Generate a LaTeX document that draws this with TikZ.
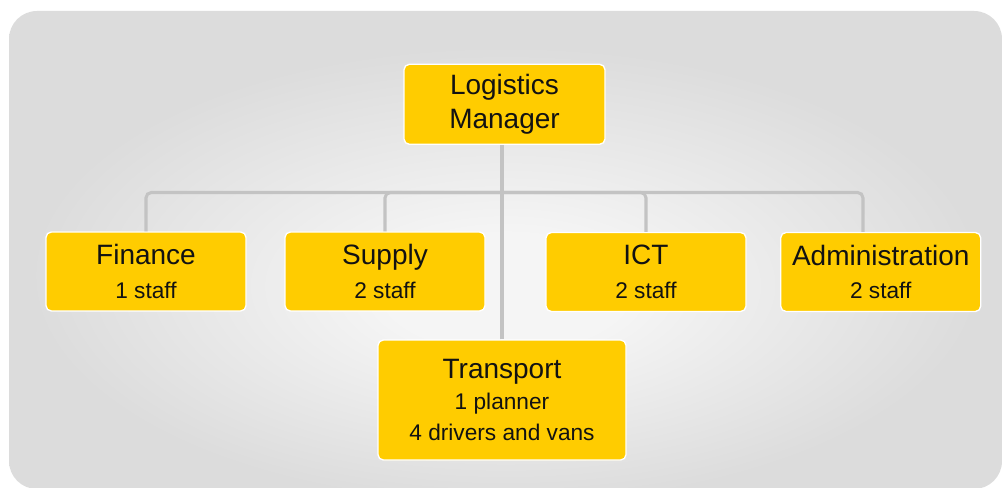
\documentclass[tikz,border=0pt]{standalone}
\usepackage{fontspec}
\setmainfont{Liberation Sans}
\definecolor{boxyellow}{HTML}{FFCC00}
\definecolor{connGray}{HTML}{C3C3C3}
\definecolor{bgEdge}{HTML}{DCDCDC}
\definecolor{bgMid}{HTML}{F5F5F5}
\pgfdeclareradialshading{bgshade}{\pgfpoint{0bp}{-5bp}}{%
  color(0bp)=(bgMid); color(6bp)=(bgMid); color(24bp)=(bgEdge); color(50bp)=(bgEdge)}
\tikzset{
  box/.style={draw=white, line width=1pt, fill=boxyellow, rounded corners=4pt,
    inner sep=0pt, align=center, text=black!93,
    font=\fontsize{21}{25}\selectfont},
  conn/.style={draw=connGray, line width=2.3pt, rounded corners=4pt}
}
\newcommand{\subline}[1]{{\fontsize{17}{25}\selectfont #1}}
\begin{document}
\begin{tikzpicture}[x=0.75pt,y=-0.75pt]
\useasboundingbox (0,0) rectangle (1003,488);
\fill[white] (0,0) rectangle (1003,488);
\shade[shading=bgshade, rounded corners=21pt] (9,11) rectangle (1002,489);

\coordinate (bar) at (502,192.5);
\node[box, minimum width=150.75pt, minimum height=60pt] (mgr) at (504.5,104.3) {Logistics\\Manager};
\node[box, minimum width=150pt, minimum height=59.25pt] (fin) at (146,271.5) {Finance\\\subline{1 staff}};
\node[box, minimum width=150pt, minimum height=59.25pt] (sup) at (385,271.5) {Supply\\\subline{2 staff}};
\node[box, minimum width=150pt, minimum height=59.25pt] (ict) at (646,272) {ICT\\\subline{2 staff}};
\node[box, minimum width=150pt, minimum height=59.25pt] (adm) at (880.7,272) {Administration\\\subline{2 staff}};
\node[box, minimum width=186pt, minimum height=90pt, font=\fontsize{21}{23}\selectfont] (trn) at (502,400) {Transport\\\subline{1 planner}\\\subline{4 drivers and vans}};

\coordinate (admtop) at ([xshift=-13.3pt]adm.north);
\draw[conn] (fin.north) |- (bar) -| (admtop);
\draw[conn] (sup.north) |- (bar);
\draw[conn] (ict.north) |- (bar);
\draw[conn, rounded corners=0pt] (trn.north) -- (trn.north |- mgr.south);
\end{tikzpicture}
\end{document}
